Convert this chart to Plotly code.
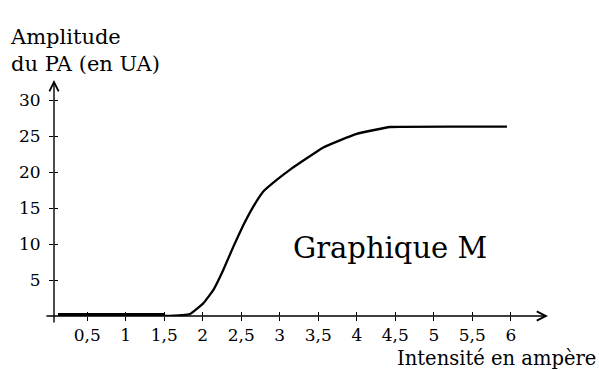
import plotly.graph_objects as go

# Data
intensite = [0.12, 1.5, 1.834, 2.006, 2.136, 2.266, 2.396, 2.526, 2.656, 2.786, 2.96, 3.13,
             3.35, 3.565, 3.78, 4.0, 4.21, 4.43, 5.95]
amplitude = [0, 0, 0.28, 1.76, 3.6, 6.4, 9.6, 12.6, 15.2, 17.3, 18.9, 20.3,
             21.9, 23.4, 24.4, 25.3, 25.8, 26.25, 26.3]
seuil_x = [0.12, 1.5]
seuil_y = [0, 0]

x_tickvals = [0.5, 1, 1.5, 2, 2.5, 3, 3.5, 4, 4.5, 5, 5.5, 6]
x_ticktext = ["0,5", "1", "1,5", "2", "2,5", "3", "3,5", "4", "4,5", "5", "5,5", "6"]
y_tickvals = [5, 10, 15, 20, 25, 30]
y_ticktext = ["5", "10", "15", "20", "25", "30"]

XR = [0.068, 6.483]
YR = [0, 32.78]
FONT = "DejaVu Serif"

fig = go.Figure()
fig.add_trace(go.Scatter(x=seuil_x, y=seuil_y, mode="lines",
                         line=dict(color="black", width=6), showlegend=False, hoverinfo="skip"))
fig.add_trace(go.Scatter(x=intensite, y=amplitude, mode="lines",
                         line=dict(color="black", width=2.3, shape="spline", smoothing=0.3),
                         showlegend=False))
fig.add_trace(go.Scatter(x=[None], y=[None], xaxis="x2", yaxis="y2", showlegend=False))

common = dict(showgrid=False, zeroline=False, showline=False, fixedrange=True)
fig.update_layout(
    width=599, height=370,
    margin=dict(l=54, r=51, t=80, b=54),
    paper_bgcolor="white", plot_bgcolor="white",
    font=dict(family=FONT, color="black"),
    xaxis=dict(range=XR, tickvals=x_tickvals, ticktext=x_ticktext, ticks="outside",
               ticklen=4, tickwidth=1.2, tickcolor="black",
               tickfont=dict(size=17, family=FONT), **common),
    yaxis=dict(range=YR, tickvals=y_tickvals, ticktext=y_ticktext, ticks="outside",
               ticklen=4, tickwidth=1.2, tickcolor="black", ticklabelstandoff=5,
               tickfont=dict(size=17, family=FONT), **common),
    xaxis2=dict(range=XR, overlaying="x", anchor="y2", side="bottom", tickvals=x_tickvals,
                ticks="inside", ticklen=4, tickwidth=1.2, tickcolor="black",
                showticklabels=False, **common),
    yaxis2=dict(range=YR, overlaying="y", anchor="x2", side="left", tickvals=y_tickvals,
                ticks="inside", ticklen=4, tickwidth=1.2, tickcolor="black",
                showticklabels=False, **common),
)

# axis lines with arrows
fig.add_annotation(x=XR[0], y=YR[1], ax=XR[0], ay=-1.1, xref="x", yref="y", axref="x", ayref="y",
                   showarrow=True, arrowhead=5, arrowsize=1.3, arrowwidth=1.4, arrowcolor="black", text="")
fig.add_annotation(x=XR[1], y=0, ax=-0.05, ay=0, xref="x", yref="y", axref="x", ayref="y",
                   showarrow=True, arrowhead=5, arrowsize=1.3, arrowwidth=1.4, arrowcolor="black", text="")

# texts
fig.add_annotation(x=(8 - 54) / 494, y=(316 - 23) / 236, xref="paper", yref="paper",
                   xanchor="left", yanchor="top", align="left", showarrow=False,
                   text="Amplitude<br>du PA (en UA)", font=dict(size=21, family=FONT))
fig.add_annotation(x=(598 - 54) / 494, y=(316 - 358) / 236, xref="paper", yref="paper",
                   xanchor="right", yanchor="middle", showarrow=False,
                   text="Intensité en ampère", font=dict(size=19.5, family=FONT))
fig.add_annotation(x=(390 - 54) / 494, y=(316 - 248) / 236, xref="paper", yref="paper",
                   xanchor="center", yanchor="middle", showarrow=False,
                   text="Graphique M", font=dict(size=29, family=FONT))

fig.write_html("out.html", config={"displayModeBar": False},
               post_script="document.body.style.margin='0';document.body.style.padding='0';")
